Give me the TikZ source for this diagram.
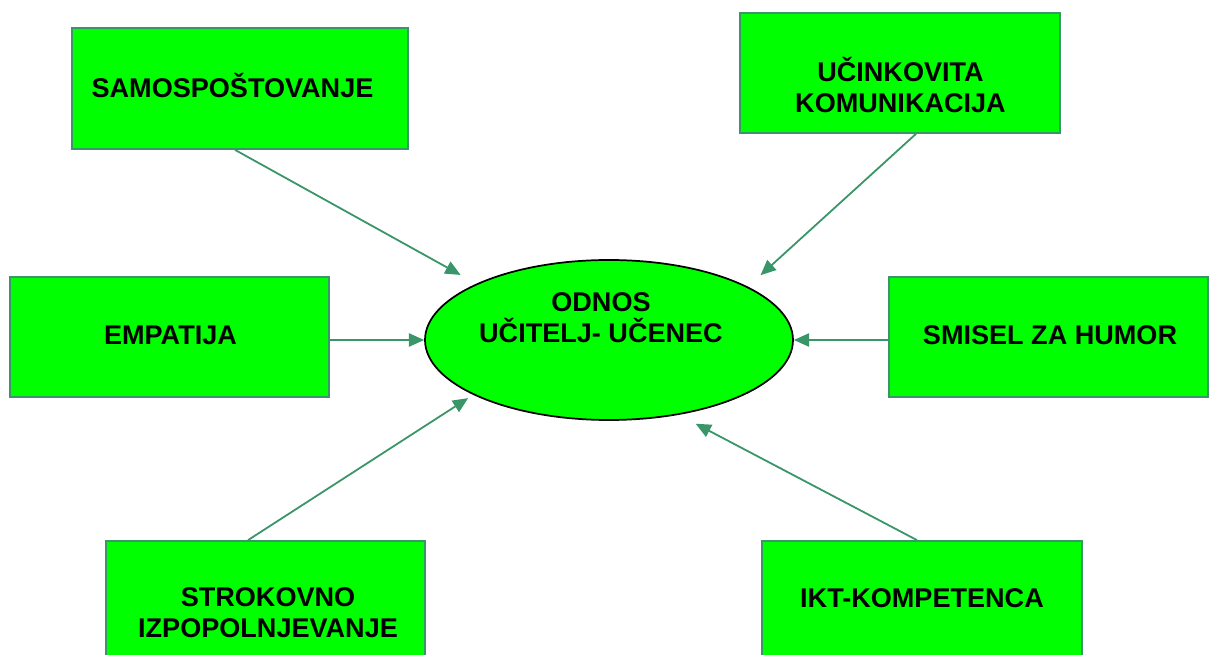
\documentclass[tikz,border=0pt]{standalone}
\usepackage{fontspec}
\setmainfont{Liberation Sans}
\usetikzlibrary{arrows.meta,shapes.geometric}
\definecolor{linegreen}{RGB}{58,150,104}
\definecolor{boxgreen}{RGB}{0,255,0}
\tikzset{
  box/.style={draw=linegreen, line width=1.3pt, fill=boxgreen, rectangle, inner sep=0pt},
  lbl/.style={font=\fontsize{20.3}{23}\selectfont\bfseries, align=center, inner sep=0pt, text=black},
  conn/.style={draw=linegreen, line width=1.35pt, -{Triangle[length=11.5pt,width=10pt]}},
  hub/.style={draw=black, line width=1.3pt, fill=boxgreen, ellipse, minimum width=276pt, minimum height=120pt, inner sep=0pt}
}
\begin{document}
\begin{tikzpicture}[x=0.75pt,y=-0.75pt]
\useasboundingbox (0,0) rectangle (1210,655);
% boxes
\node[box, minimum width=252pt, minimum height=90.75pt] (sam) at (240,88.5) {};
\node[lbl] (samt) at (232.5,86) {SAMOSPOŠTOVANJE};
\node[box, minimum width=240pt, minimum height=90pt] (uk) at (900,73) {};
\node[lbl] (ukt) at (900.5,85) {UČINKOVITA\\KOMUNIKACIJA};
\node[box, minimum width=239.25pt, minimum height=90pt] (emp) at (169.5,337) {};
\node[lbl] (empt) at (170.5,335) {EMPATIJA};
\node[box, minimum width=239.25pt, minimum height=90pt] (smi) at (1048.5,337) {};
\node[lbl] (smit) at (1050,335) {SMISEL ZA HUMOR};
\node[box, minimum width=239.25pt, minimum height=108pt] (str) at (265.5,613) {};
\node[lbl] (strt) at (268,613) {STROKOVNO\\IZPOPOLNJEVANJE};
\node[box, minimum width=240pt, minimum height=90pt] (ikt) at (922,601) {};
\node[lbl] (iktt) at (922,598) {IKT-KOMPETENCA};
% hub
\node[hub] (ell) at (609,340) {};
\node[lbl] (ellt) at (601,318) {ODNOS\\UČITELJ- UČENEC};
% connectors
\draw[conn, shorten >=13.5pt] ([xshift=-3.75pt]sam.south) -- (ell.157.2);
\draw[conn, shorten >=12.75pt] ([xshift=12pt]uk.south) -- (ell.21.3);
\draw[conn] (emp.east |- ell.west) -- (ell.west);
\draw[conn] (smi.west |- ell.east) -- (ell.east);
\draw[conn, shorten >=4.5pt] ([xshift=-13.1pt]str.north) -- (ell.202.2);
\draw[conn, shorten >=14.25pt] ([xshift=-3.75pt]ikt.north) -- (ell.313.5);
\end{tikzpicture}
\end{document}
